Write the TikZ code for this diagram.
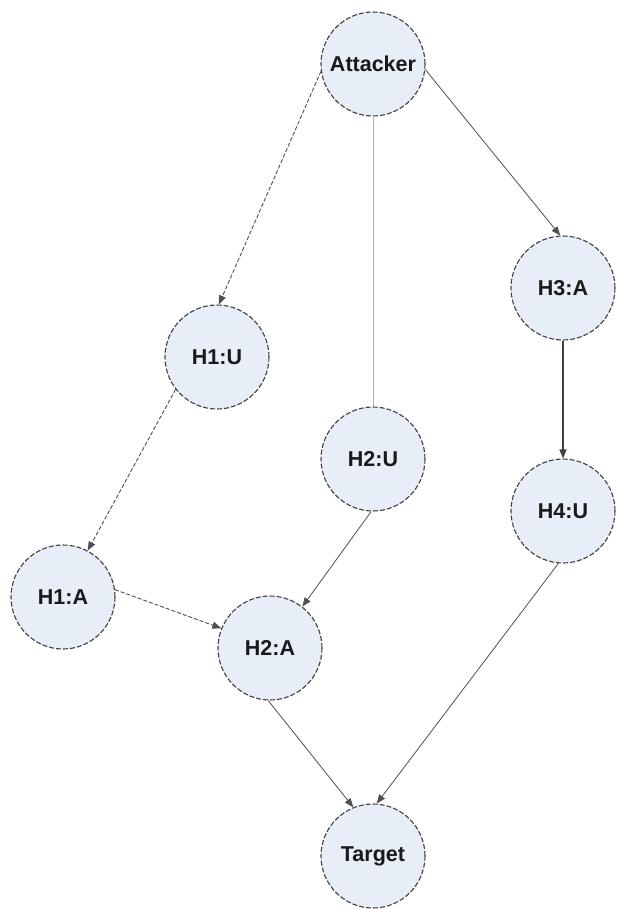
\documentclass[tikz,border=0pt]{standalone}
\usepackage{fontspec}
\setmainfont{Liberation Sans}
\usetikzlibrary{arrows.meta}
\definecolor{hostfill}{HTML}{E8EEF7}
\definecolor{rim}{HTML}{404040}
\definecolor{wire}{HTML}{505050}
\begin{document}
\begin{tikzpicture}[x=1pt,y=-1pt,
  host/.style={circle,draw=rim,fill=hostfill,line width=1.1pt,
    dash pattern=on 5pt off 2pt,minimum size=104pt,inner sep=0pt,
    font=\fontsize{21.5}{25}\selectfont\bfseries,text=black!90},
  tip/.style={-{Triangle[length=9pt,width=7pt]}},
  link/.style={tip,draw=wire,line width=0.8pt},
  dlink/.style={tip,draw=wire,line width=0.9pt,dash pattern=on 4pt off 2pt},
  plain/.style={draw=black!30,line width=0.9pt},
  strong/.style={tip,draw=black!75,line width=1.3pt}]
\useasboundingbox (0,0) rectangle (619,909);
\fill[white] (0,0) rectangle (619,909);

% hosts
\node[host] (att) at (373,64)  {Attacker};
\node[host] (h1u) at (217,357) {H1:U};
\node[host] (h2u) at (373,459) {H2:U};
\node[host] (h3a) at (563,288) {H3:A};
\node[host] (h4u) at (563,511) {H4:U};
\node[host] (h1a) at (63,597)  {H1:A};
\node[host] (h2a) at (270,648) {H2:A};
\node[host] (tgt) at (373,856) {Target};

% connectors
\draw[dlink] (att.188) -- (h1u.88);
\draw[plain] (att.south) -- (h2u.north);
\draw[link]  (att.-6) -- (h3a.93);
\draw[strong] (h3a.south) -- (h4u.north);
\draw[dlink] (h1u.218) -- (h1a.62);
\draw[dlink] (h1a.8) -- (h2a.158);
\draw[link]  (h2u.268) -- (h2a.52);
\draw[link]  (h2a.268) -- (tgt.112);
\draw[link]  (h4u.265) -- (tgt.86);
\end{tikzpicture}
\end{document}
